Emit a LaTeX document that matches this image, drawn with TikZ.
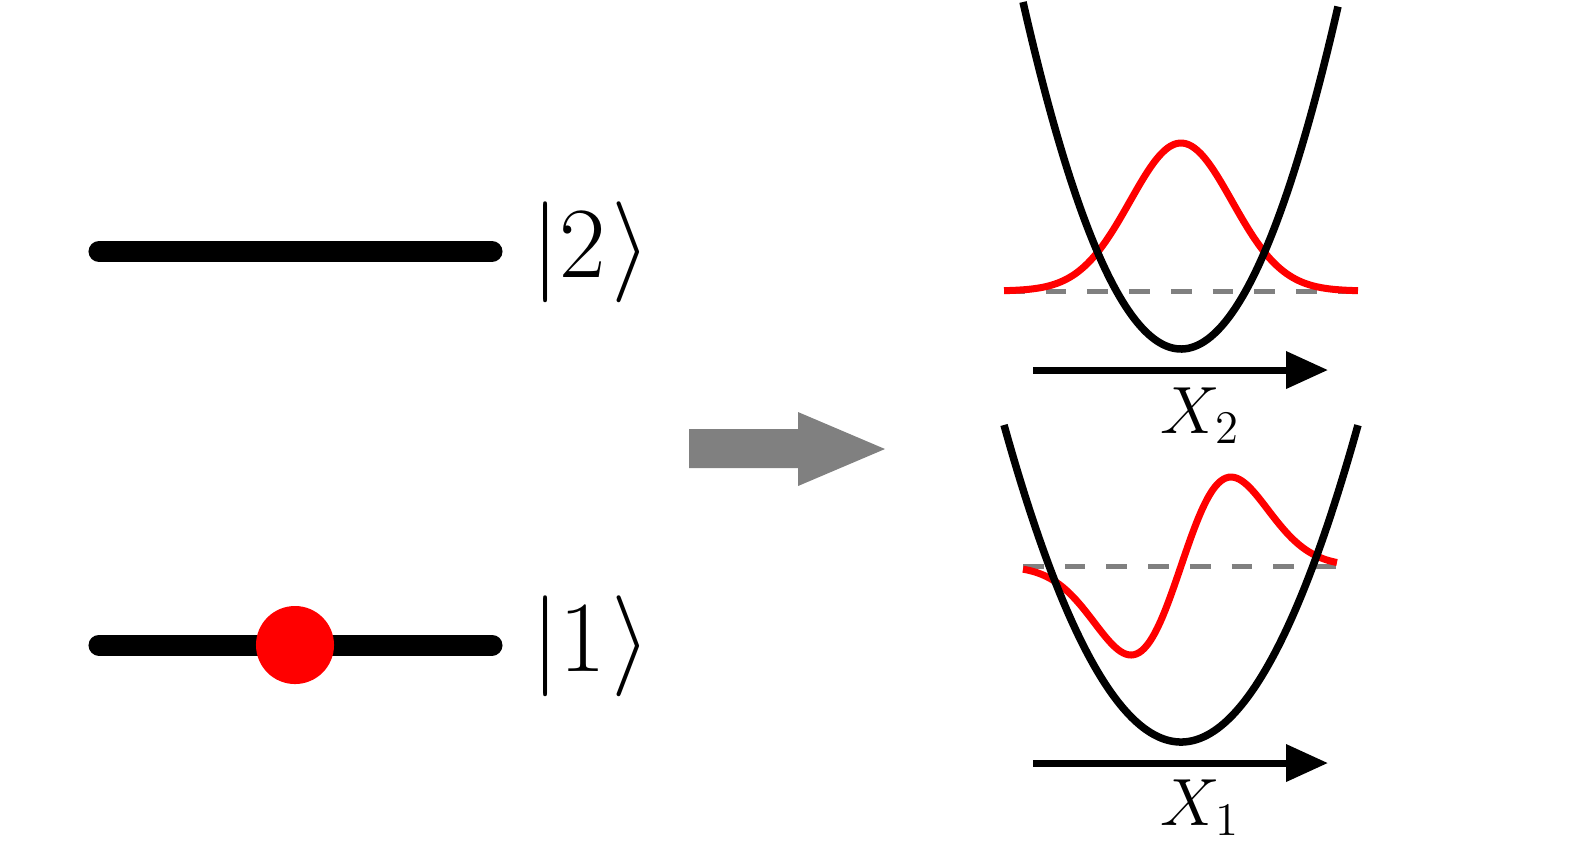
\RequirePackage{fix-cm}
\documentclass[tikz,border=0pt]{standalone}
\usetikzlibrary{arrows.meta}
\definecolor{arrowgray}{RGB}{128,128,128}
\begin{document}
\begin{tikzpicture}[x=0.01cm,y=-0.01cm,
  level/.style={line width=0.21cm, line cap=round},
  pot/.style={line width=0.075cm},
  wave/.style={red, line width=0.07cm},
  guide/.style={arrowgray, line width=0.05cm, dash pattern=on 0.207cm off 0.21cm},
  axis/.style={line width=0.07cm, -{Triangle[length=0.42cm,width=0.36cm]}},
  statelabel/.style={inner sep=0, anchor=base west, font=\fontsize{28.7}{34}\selectfont},
  axislabel/.style={inner sep=0, anchor=base west, font=\fontsize{19}{23}\selectfont}]
\useasboundingbox (0,0) rectangle (1574,859);

% energy levels
\coordinate (l2a) at (99,251.5);
\coordinate (l2b) at (492,251.5);
\coordinate (l1a) at (99,645);
\coordinate (l1b) at (492,645);
\draw[level] (l2a) -- (l2b);
\draw[level] (l1a) -- (l1b);
\node[circle, fill=red, minimum size=0.78cm, inner sep=0] (dot) at (295,645) {};
\node[statelabel] (ket2) at (531,277) {$|2\mkern0.9mu\rangle$};
\node[statelabel] (ket1) at (531,671) {$|1\mkern0.9mu\rangle$};

% big gray arrow
\fill[arrowgray] (689,429) -- (798,429) -- (798,412) -- (885,449) -- (798,486) -- (798,468) -- (689,468) -- cycle;

% top panel
\draw[guide] (1004,291) -- (1358,291);
\draw[wave] plot[smooth, samples=120, domain=-3.47:3.47, variable=\t] ({1181+51*\t}, {291-148*exp(-\t*\t/2)});
\draw[pot] plot[smooth, samples=100, domain=-1.58:1.57, variable=\u] ({1181+100*\u}, {349-139*\u*\u});
\coordinate (a2s) at (1033,370);
\coordinate (a2e) at (1328,370);
\draw[axis] (a2s) -- (a2e);
\node[axislabel] (x2) at (1160,433) {$X_2$};

% bottom panel
\draw[guide] (1023,566) -- (1337,566);
\draw[wave] plot[smooth, samples=120, domain=-3.16:3.12, variable=\t] ({1181+50*\t}, {566-146.7*\t*exp(-\t*\t/2)});
\draw[pot] plot[smooth, samples=100, domain=-1.77:1.77, variable=\u] ({1181+100*\u}, {742-101.2*\u*\u});
\coordinate (a1s) at (1033,763);
\coordinate (a1e) at (1328,763);
\draw[axis] (a1s) -- (a1e);
\node[axislabel] (x1) at (1160,825) {$X_1$};
\end{tikzpicture}
\end{document}
